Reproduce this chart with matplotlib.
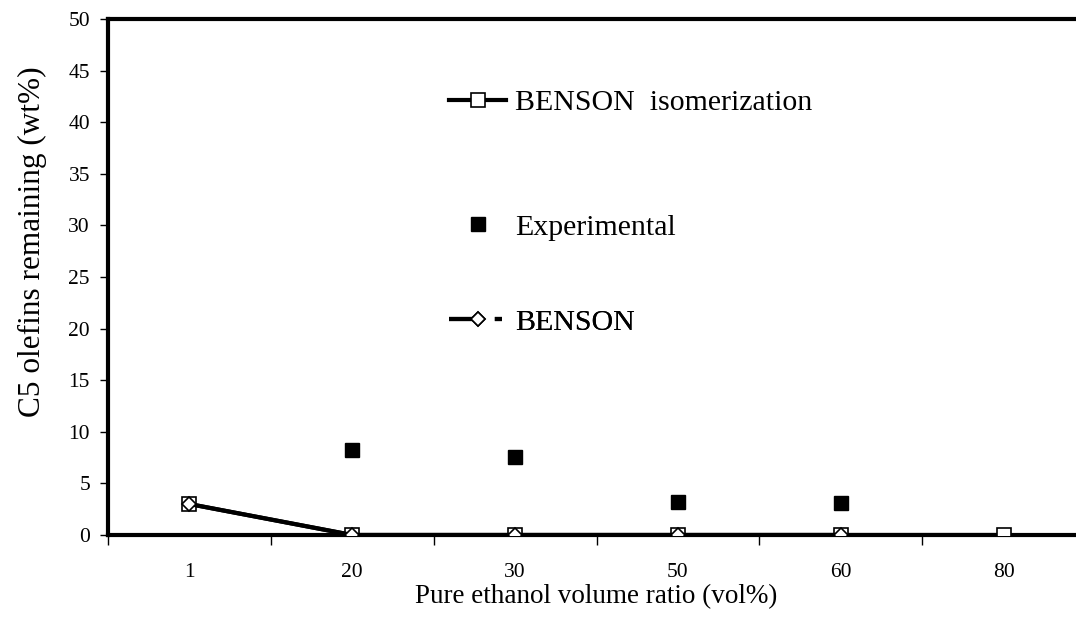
import matplotlib
matplotlib.use("Agg")
import matplotlib.pyplot as plt
from matplotlib.lines import Line2D
import numpy as np

plt.rcParams["font.family"] = ["Liberation Serif", "DejaVu Serif"]

# ethanol volume ratio categories (vol%)
ratios = ["1", "20", "30", "50", "60", "80"]
# C5 olefins remaining (wt%)
benson_iso = [3.0, 0.0, 0.0, 0.0, 0.0, 0.0]
experimental = [None, 8.2, 7.6, 3.2, 3.1, None]
benson = [3.0, 0.0, 0.0, 0.0, 0.0]

fig = plt.figure(figsize=(10.76, 6.17), dpi=100)
ax = fig.add_axes([0.1004, 0.1329, 0.908, 0.8363])

x = np.arange(len(ratios))
ax.plot(x, benson_iso, color="black", lw=3, marker="s", ms=10,
        mfc="white", mec="black", mew=1.2, zorder=3)
ax.plot(x[:len(benson)], benson, color="black", lw=3, marker="D", ms=7,
        mfc="white", mec="black", mew=1.2, zorder=4)
xe = [xi for xi, v in zip(x, experimental) if v is not None]
ye = [v for v in experimental if v is not None]
ax.plot(xe, ye, ls="none", marker="s", ms=10, color="black", zorder=4)

ax.set_xlim(-0.5, len(ratios) - 0.5)
ax.set_ylim(0, 50)
ax.set_yticks(np.arange(0, 51, 5))
ax.set_xticks(x)
ax.set_xticklabels(ratios)
ax.set_xticks(np.arange(-0.5, len(ratios), 1.0), minor=True)
ax.tick_params(axis="x", which="major", length=0, pad=20, labelsize=15.5)
ax.tick_params(axis="x", which="minor", length=7, width=1, direction="out")
ax.tick_params(axis="y", length=6, width=1, direction="out", labelsize=15.5, pad=7)

for side in ("left", "bottom", "top"):
    ax.spines[side].set_linewidth(3)
ax.spines["right"].set_visible(False)

ax.set_ylabel("C5 olefins remaining (wt%)", fontsize=22.5)
ax.yaxis.set_label_coords(-0.0624, 0.568)
ax.set_xlabel("Pure ethanol volume ratio (vol%)", fontsize=19.5, labelpad=2)

# legend entries are spread down the middle of the plot
h_iso = Line2D([], [], color="black", lw=3, marker="s", ms=10,
               mfc="white", mec="black", mew=1.2)
h_exp = Line2D([], [], ls="none", marker="s", ms=10, color="black")
h_ben = Line2D([], [], color="black", lw=3, marker="D", ms=7,
               mfc="white", mec="black", mew=1.2, ls=(0, (6.5, 4.5, 1.7, 20)))

entries = [(h_iso, "BENSON  isomerization", 0.838),
           (h_exp, "Experimental", 0.596),
           (h_ben, "BENSON", 0.412)]
for h, lab, yy in entries:
    leg = ax.legend([h], [lab], loc="center left", bbox_to_anchor=(0.337, yy),
                    frameon=False, fontsize=21.5, handlelength=1.9,
                    handletextpad=0.3, borderaxespad=0)
    ax.add_artist(leg)

fig.savefig("out.png", dpi=100)
